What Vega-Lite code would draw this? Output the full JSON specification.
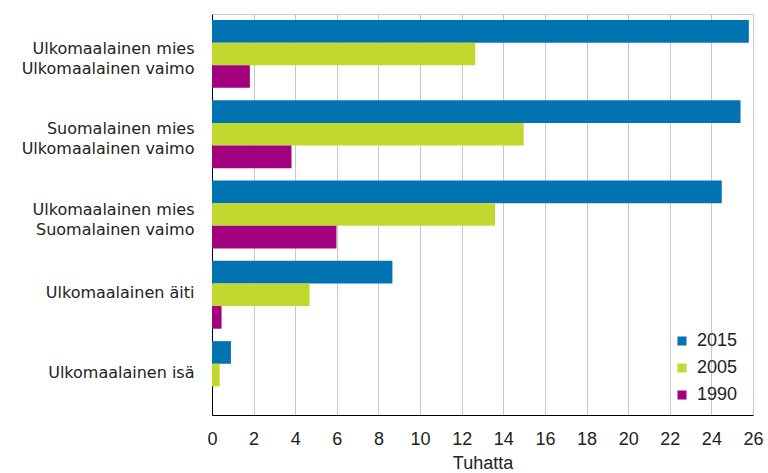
{
  "$schema": "https://vega.github.io/schema/vega-lite/v6.json",
  "width": 541,
  "height": 401,
  "autosize": "none",
  "padding": {"left": 212, "top": 14, "right": 15, "bottom": 58},
  "background": "white",
  "config": {
    "font": "Liberation Sans",
    "view": {"stroke": "#c8c8c8", "strokeWidth": 1}
  },
  "data": {
    "values": [
      {"ryhma": "Ulkomaalainen mies|Ulkomaalainen vaimo", "vuosi": "2015", "arvo": 25.8},
      {"ryhma": "Ulkomaalainen mies|Ulkomaalainen vaimo", "vuosi": "2005", "arvo": 12.65},
      {"ryhma": "Ulkomaalainen mies|Ulkomaalainen vaimo", "vuosi": "1990", "arvo": 1.82},
      {"ryhma": "Suomalainen mies|Ulkomaalainen vaimo", "vuosi": "2015", "arvo": 25.4},
      {"ryhma": "Suomalainen mies|Ulkomaalainen vaimo", "vuosi": "2005", "arvo": 14.98},
      {"ryhma": "Suomalainen mies|Ulkomaalainen vaimo", "vuosi": "1990", "arvo": 3.82},
      {"ryhma": "Ulkomaalainen mies|Suomalainen vaimo", "vuosi": "2015", "arvo": 24.5},
      {"ryhma": "Ulkomaalainen mies|Suomalainen vaimo", "vuosi": "2005", "arvo": 13.6},
      {"ryhma": "Ulkomaalainen mies|Suomalainen vaimo", "vuosi": "1990", "arvo": 5.98},
      {"ryhma": "Ulkomaalainen äiti", "vuosi": "2015", "arvo": 8.67},
      {"ryhma": "Ulkomaalainen äiti", "vuosi": "2005", "arvo": 4.69},
      {"ryhma": "Ulkomaalainen äiti", "vuosi": "1990", "arvo": 0.46},
      {"ryhma": "Ulkomaalainen isä", "vuosi": "2015", "arvo": 0.91},
      {"ryhma": "Ulkomaalainen isä", "vuosi": "2005", "arvo": 0.37},
      {"ryhma": "Ulkomaalainen isä", "vuosi": "1990", "arvo": 0}
    ]
  },
  "mark": {"type": "bar"},
  "encoding": {
    "y": {
      "field": "ryhma",
      "type": "nominal",
      "sort": null,
      "scale": {"paddingInner": 0.155, "paddingOuter": 0.075},
      "axis": {
        "title": null,
        "labelExpr": "split(datum.label, '|')",
        "labelFont": "DejaVu Sans",
        "labelFontSize": 16,
        "labelColor": "#222222",
        "labelLineHeight": 20,
        "labelPadding": 18,
        "labelOffset": {"condition": {"test": "indexof(datum.value, '|') >= 0", "value": -5}, "value": -2},
        "ticks": false,
        "domainColor": "#000000",
        "labelLimit": 250
      }
    },
    "yOffset": {
      "field": "vuosi",
      "type": "nominal",
      "sort": ["2015", "2005", "1990"],
      "scale": {"paddingInner": 0, "paddingOuter": 0}
    },
    "x": {
      "field": "arvo",
      "type": "quantitative",
      "scale": {"domain": [0, 26], "nice": false},
      "axis": {
        "title": "Tuhatta",
        "titleFontSize": 18,
        "titleFontWeight": "normal",
        "titleColor": "#222222",
        "titlePadding": 6,
        "values": [0, 2, 4, 6, 8, 10, 12, 14, 16, 18, 20, 22, 24, 26],
        "labelFontSize": 18,
        "labelColor": "#222222",
        "labelPadding": 15,
        "ticks": false,
        "domainColor": "#000000",
        "grid": true,
        "gridColor": "#c8c8c8",
        "labelFlush": false
      }
    },
    "color": {
      "field": "vuosi",
      "type": "nominal",
      "scale": {"domain": ["2015", "2005", "1990"], "range": ["#0073B0", "#C3D82E", "#A3007F"]},
      "legend": {
        "title": null,
        "orient": "none",
        "legendX": 461,
        "legendY": 318,
        "symbolType": "square",
        "symbolSize": 81,
        "symbolStrokeWidth": 0,
        "labelFontSize": 18,
        "labelColor": "#222222",
        "labelOffset": 6,
        "rowPadding": 9,
        "padding": 0
      }
    }
  }
}
